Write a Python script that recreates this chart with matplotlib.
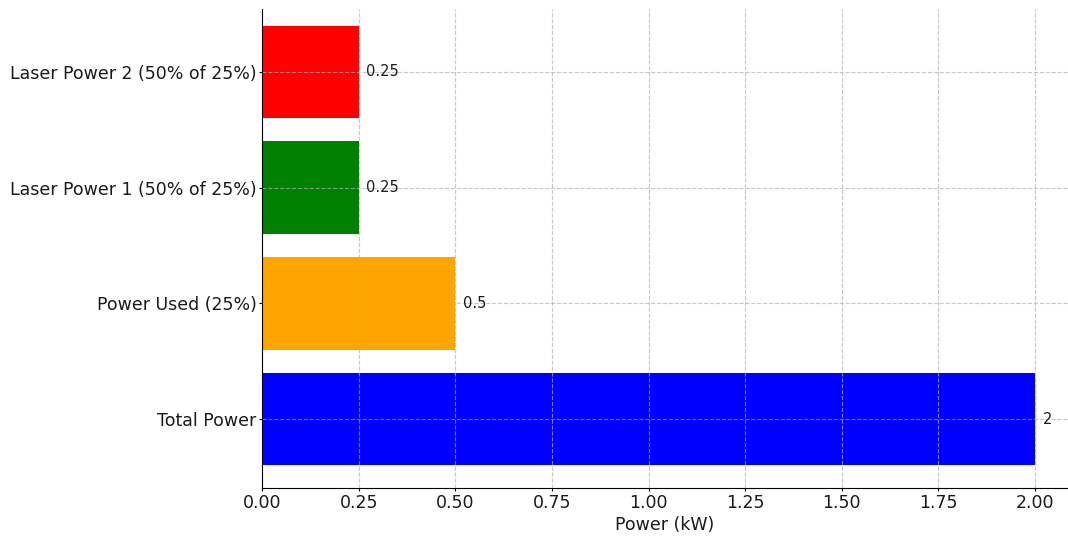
import matplotlib.pyplot as plt

# power budget breakdown
labels = ['Total Power', 'Power Used (25%)',
          'Laser Power 1 (50% of 25%)', 'Laser Power 2 (50% of 25%)']
power_kw = [2, 0.5, 0.25, 0.25]
bar_colors = ['blue', 'orange', 'green', 'red']

fig = plt.figure(figsize=(10.68, 5.36), dpi=100)
ax = fig.add_axes([0.2453, 0.0896, 0.7547, 0.8937])

bars = ax.barh(labels, power_kw, color=bar_colors, height=0.8)

# value next to each bar
for bar, val in zip(bars, power_kw):
    ax.text(bar.get_width() + 0.02, bar.get_y() + bar.get_height() / 2,
            f"{val:g}", va='center', ha='left', fontsize=10.5, color='#1a1a1a')

ax.set_xlabel('Power (kW)', fontsize=12.5, color='#1a1a1a', labelpad=3)
ax.set_xlim(0, 2.085)
ax.set_ylim(-0.596, 3.545)
ax.set_xticks([0, 0.25, 0.5, 0.75, 1.0, 1.25, 1.5, 1.75, 2.0])
ax.set_xticklabels(['0.00', '0.25', '0.50', '0.75', '1.00', '1.25',
                    '1.50', '1.75', '2.00'])
ax.tick_params(axis='both', labelsize=12.5, labelcolor='#1a1a1a',
               length=2.5, pad=1.5)

ax.grid(True, linestyle='--', color='#b0b0b0', alpha=0.7, linewidth=0.8)
ax.spines['top'].set_visible(False)
ax.spines['right'].set_visible(False)

fig.savefig('out.png', dpi=100)
